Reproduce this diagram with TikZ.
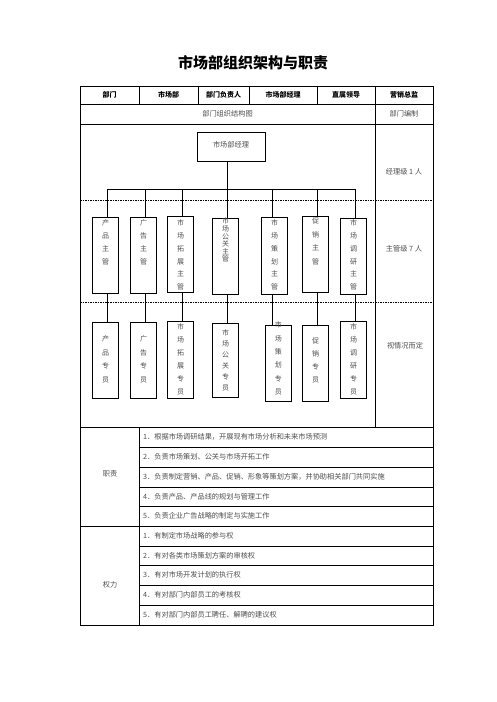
\documentclass[tikz,border=0pt]{standalone}
\usepackage{fontspec}
\setmainfont{Noto Sans CJK SC}
\begin{document}
\begin{tikzpicture}[x=1pt,y=-1pt,
  tline/.style={line width=0.7pt},
  dashline/.style={line width=0.6pt,dash pattern=on 1.5pt off 1pt},
  hdr/.style={font=\bfseries\fontsize{7}{8}\selectfont,inner sep=0},
  body/.style={font=\fontsize{7.2}{9}\selectfont,text=black!70,inner sep=0},
  rowtxt/.style={body,anchor=west},
  vbox/.style={draw,line width=0.7pt,minimum width=26.4pt,inner sep=0},
  vtxt/.style={inner sep=0,align=center,text=black!70},
  conn/.style={line width=0.7pt}
]
\useasboundingbox (0,0) rectangle (496,702);
% title
\node[font=\bfseries\fontsize{15}{16}\selectfont,inner sep=0] (title) at (253,63) {市场部组织架构与职责};
% table frame
\draw[tline] (80,86) rectangle (433,625);
\draw[tline] (80,104) -- (433,104);
\draw[tline] (80,124) -- (433,124);
\draw[tline] (80,427) -- (433,427);
\foreach \x in {139,198,249,317} \draw[tline] (\x,86) -- (\x,104);
\draw[tline] (375,86) -- (375,427);
\draw[dashline] (80,200) -- (433,200);
\draw[dashline] (80,302) -- (433,302);
\draw[tline] (139,427) -- (139,625);
\foreach \y in {447,467,487,506,546,565,585,605} \draw[tline] (139,\y) -- (433,\y);
\draw[tline] (80,526) -- (433,526);
% header
\node[hdr] (h1) at (109.5,95) {部门};
\node[hdr] (h2) at (168.5,95) {市场部};
\node[hdr] (h3) at (223.5,95) {部门负责人};
\node[hdr] (h4) at (283,95) {市场部经理};
\node[hdr] (h5) at (346,95) {直属领导};
\node[hdr] (h6) at (404,95) {营销总监};
\node[body] (r2a) at (227.5,114) {部门组织结构图};
\node[body] (r2b) at (404,114) {部门编制};
% right labels
\node[body] (lv1) at (404,172) {经理级 1 人};
\node[body] (lv2) at (404,249) {主管级 7 人};
\node[body] (lv3) at (405,346) {视情况而定};
% manager
\node[draw,line width=0.7pt,minimum width=68pt,minimum height=29pt,inner sep=0] (mgr) at (231,146.5) {};
\node[body] (mgrt) at (231,145) {市场部经理};
% bus coordinates
\coordinate (b1) at (107.7,189);
\coordinate (b2) at (145.7,189);
\coordinate (b3) at (182.7,189);
\coordinate (b4) at (227.3,189);
\coordinate (b5) at (272.3,189);
\coordinate (b6) at (317.3,189);
\coordinate (b7) at (355.3,189);
% supervisor boxes
\node[vbox,minimum height=76pt] (s1) at (105.5,255.3) {};
\node[vbox,minimum height=76pt] (s2) at (143.5,255.3) {};
\node[vbox,minimum height=76.3pt] (s3) at (180.5,254.15) {};
\node[vbox,minimum height=76pt] (s4) at (225.5,256.3) {};
\node[vbox,minimum height=77.3pt] (s5) at (274.5,255.65) {};
\node[vbox,minimum height=76.3pt] (s6) at (315.5,254.15) {};
\node[vbox,minimum height=76pt] (s7) at (353.5,256.3) {};
% specialist boxes
\node[vbox,minimum height=76.4pt] (p1) at (105.5,360.5) {};
\node[vbox,minimum height=76.4pt] (p2) at (143.5,360.5) {};
\node[vbox,minimum height=77.4pt] (p3) at (180.5,360) {};
\node[vbox,minimum height=74pt] (p4) at (225.5,360.5) {};
\node[vbox,minimum height=76pt] (p5) at (278.3,363) {};
\node[vbox,minimum height=76.3pt] (p6) at (315.5,363.15) {};
\node[vbox,minimum height=77.4pt] (p7) at (353.5,360) {};
% supervisor texts
\node[vtxt,anchor=north,font=\fontsize{7}{13}\selectfont] (st1) at (105.5,219.5) {产\\品\\主\\管};
\node[vtxt,anchor=north,font=\fontsize{7}{13}\selectfont] (st2) at (143.5,219.5) {广\\告\\主\\管};
\node[vtxt,anchor=north,font=\fontsize{7}{12.8}\selectfont] (st3) at (180.5,219.5) {市\\场\\拓\\展\\主\\管};
\node[vtxt,anchor=north,font=\fontsize{7}{7.6}\selectfont] (st4) at (225.5,217.8) {市\\场\\公\\关\\主\\管};
\node[vtxt,anchor=north,font=\fontsize{7}{12.8}\selectfont] (st5) at (274.5,219.5) {市\\场\\策\\划\\主\\管};
\node[vtxt,anchor=north,font=\fontsize{7}{13.7}\selectfont] (st6) at (315.5,217.5) {促\\销\\主\\管};
\node[vtxt,anchor=north,font=\fontsize{7}{12.8}\selectfont] (st7) at (353.5,219.5) {市\\场\\调\\研\\主\\管};
% specialist texts
\node[vtxt,font=\fontsize{7}{13.5}\selectfont] (pt1) at (105.5,359.5) {产\\品\\专\\员};
\node[vtxt,font=\fontsize{7}{13.5}\selectfont] (pt2) at (143.5,359.5) {广\\告\\专\\员};
\node[vtxt,font=\fontsize{7}{13}\selectfont] (pt3) at (180.5,359.5) {市\\场\\拓\\展\\专\\员};
\node[vtxt,font=\fontsize{7}{11}\selectfont] (pt4) at (225.5,360) {市\\场\\公\\关\\专\\员};
\node[vtxt,font=\fontsize{7}{13.4}\selectfont] (pt5) at (278.3,358.5) {市\\场\\策\\划\\专\\员};
\node[vtxt,font=\fontsize{7}{13}\selectfont] (pt6) at (315.5,360.5) {促\\销\\专\\员};
\node[vtxt,font=\fontsize{7}{13}\selectfont] (pt7) at (353.5,359.5) {市\\场\\调\\研\\专\\员};
% connectors
\draw[conn] (mgr.south -| b4) -- (b4);
\draw[conn] (b1) -- (b7);
\foreach \i in {1,...,7} {
  \draw[conn] (b\i) -- (b\i |- s\i.north);
  \draw[conn] (b\i |- s\i.south) -- (b\i |- p\i.north);
}
% lower table
\node[body] (zz) at (110,474) {职责};
\node[rowtxt] (z1) at (143,437) {1．根据市场调研结果，开展现有市场分析和未来市场预测};
\node[rowtxt] (z2) at (143,457) {2．负责市场策划、公关与市场开拓工作};
\node[rowtxt] (z3) at (143,477) {3．负责制定营销、产品、促销、形象等策划方案，并协助相关部门共同实施};
\node[rowtxt] (z4) at (143,496.5) {4．负责产品、产品线的规划与管理工作};
\node[rowtxt] (z5) at (143,516) {5．负责企业广告战略的制定与实施工作};
\node[body] (qq) at (110,585) {权力};
\node[rowtxt] (q1) at (143,536) {1．有制定市场战略的参与权};
\node[rowtxt] (q2) at (143,555.5) {2．有对各类市场策划方案的审核权};
\node[rowtxt] (q3) at (143,575) {3．有对市场开发计划的执行权};
\node[rowtxt] (q4) at (143,595) {4．有对部门内部员工的考核权};
\node[rowtxt] (q5) at (143,615) {5．有对部门内部员工聘任、解聘的建议权};
\end{tikzpicture}
\end{document}
